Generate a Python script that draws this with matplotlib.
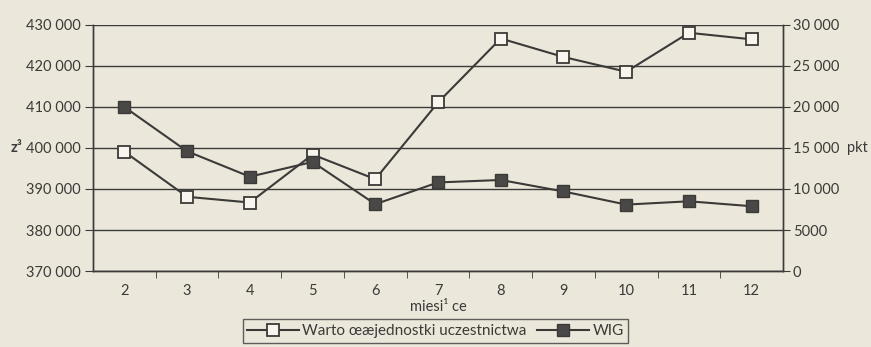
import matplotlib.pyplot as plt
from matplotlib.ticker import FuncFormatter, FixedLocator

# miesiące 2..12, wartość jednostki (zł) i WIG (pkt)
miesiace = [2, 3, 4, 5, 6, 7, 8, 9, 10, 11, 12]
wartosc_jednostki = [399100, 388100, 386700, 398400, 392400, 411100,
                     426700, 422200, 418600, 428100, 426500]
wig = [20000, 14600, 11500, 13300, 8150, 10800, 11100, 9700, 8100, 8500, 7900]

paper = '#ebe8db'
ink = '#3c3a38'

plt.rcParams['font.family'] = ['Lato', 'DejaVu Sans']
plt.rcParams['font.size'] = 10.5

fig = plt.figure(figsize=(8.71, 3.47), dpi=100, facecolor=paper)
ax = fig.add_axes([0.1068, 0.219, 0.7922, 0.709])
ax.set_facecolor('none')
ax2 = ax.twinx()

# poziome linie siatki
for v in range(370000, 430001, 10000):
    ax.axhline(v, color=ink, lw=1.0, zorder=1)

l1, = ax.plot(miesiace, wartosc_jednostki, color=ink, lw=1.5, marker='s',
              markersize=9, markerfacecolor='#f7f5ee', markeredgecolor=ink,
              markeredgewidth=1.3, zorder=3)
l2, = ax2.plot(miesiace, wig, color=ink, lw=1.5, marker='s',
               markersize=9, markerfacecolor='#4a4847', markeredgecolor=ink,
               markeredgewidth=1.0, zorder=3)

ax.set_xlim(1.5, 12.5)
ax.set_ylim(370000, 430000)
ax2.set_ylim(0, 30000)

ax.yaxis.set_major_locator(FixedLocator(range(370000, 430001, 10000)))
ax.yaxis.set_major_formatter(FuncFormatter(
    lambda v, p: f'{int(v):,}'.replace(',', ' ')))
ax2.yaxis.set_major_locator(FixedLocator(range(0, 30001, 5000)))
ax2.yaxis.set_major_formatter(FuncFormatter(
    lambda v, p: f'{int(v):,}'.replace(',', ' ') if v >= 10000 else f'{int(v)}'))

ax.set_xticks(miesiace)
ax.set_xticks([m + 0.5 for m in miesiace[:-1]], minor=True)
ax.tick_params(axis='x', which='major', length=0, pad=9, colors=ink)
ax.tick_params(axis='x', which='minor', length=5, direction='out', color=ink)
ax.tick_params(axis='y', length=6, direction='out', color=ink, labelcolor=ink, pad=3)
ax2.tick_params(axis='y', length=5, direction='out', color=ink, labelcolor=ink, pad=2)

for a in (ax, ax2):
    a.spines['top'].set_visible(False)
    for s in ('left', 'right', 'bottom'):
        a.spines[s].set_color(ink)
        a.spines[s].set_linewidth(1.0)

ax.set_xlabel('miesi¹ ce', color=ink, labelpad=2)
fig.text(0.012, 0.573, 'z³', color=ink, fontweight='bold',
         va='center', ha='left')
fig.text(0.972, 0.573, 'pkt', color=ink, va='center', ha='left')

leg = fig.legend([l1, l2], ['Warto œæjednostki uczestnictwa', 'WIG'],
                 loc='center', bbox_to_anchor=(0.5, 0.046), ncol=2,
                 frameon=True, fancybox=False, fontsize=11, handlelength=3.4,
                 columnspacing=0.7, borderpad=0.3, handletextpad=0.2)
leg.get_frame().set_edgecolor(ink)
leg.get_frame().set_facecolor(paper)
leg.get_frame().set_linewidth(1.0)
for t in leg.get_texts():
    t.set_color(ink)

fig.savefig('out.png', dpi=100, facecolor=paper)
